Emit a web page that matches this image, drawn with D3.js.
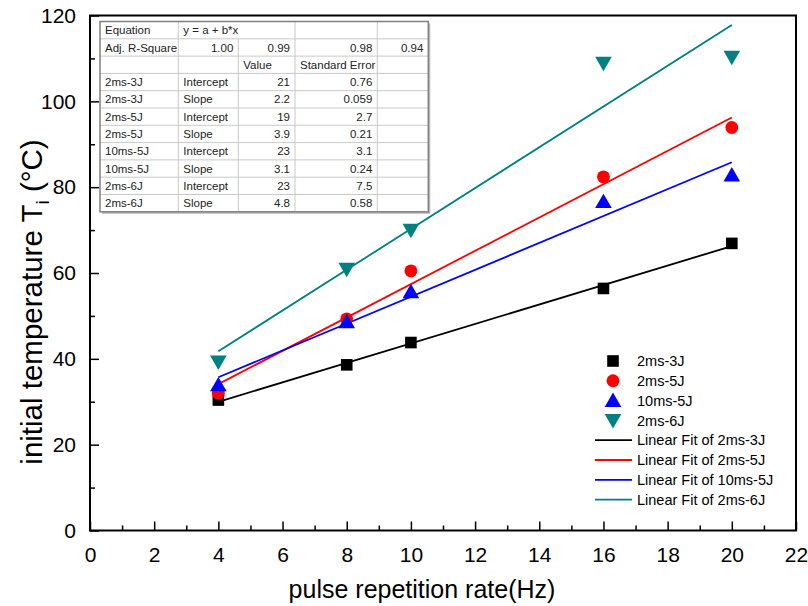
<!DOCTYPE html>
<html><head><meta charset="utf-8">
<script src="https://cdn.jsdelivr.net/npm/d3@7"></script>
<style>html,body{margin:0;padding:0;background:#fff;} svg{display:block;font-family:"Liberation Sans",Arial,sans-serif;}</style>
</head><body>
<script>
// ---- data ----
const xValues = [4, 8, 10, 16, 20];
const seriesNames = ["2ms-3J", "2ms-5J", "10ms-5J", "2ms-6J"];
const t2ms3J  = [30.4, 38.6, 43.8, 56.4, 66.9];
const t2ms5J  = [32.0, 49.3, 60.5, 82.4, 93.9];
const t10ms5J = [33.9, 48.6, 55.6, 76.6, 82.8];
const t2ms6J  = [39.3, 60.9, 70.0, 108.9, 110.3];
const seriesColors = ["#000000", "#ff0000", "#0000ff", "#008080"];
const seriesSymbols = ["square", "circle", "triangleUp", "triangleDown"];
const xTickValues = [0, 2, 4, 6, 8, 10, 12, 14, 16, 18, 20, 22];
const yTickValues = [0, 20, 40, 60, 80, 100, 120];
const fitLabels = ["Linear Fit of 2ms-3J", "Linear Fit of 2ms-5J", "Linear Fit of 10ms-5J", "Linear Fit of 2ms-6J"];
// fit table
const tableEquation = "y = a + b*x";
const adjRSquare = ["1.00", "0.99", "0.98", "0.94"];
const tableRowNames = ["2ms-3J", "2ms-3J", "2ms-5J", "2ms-5J", "10ms-5J", "10ms-5J", "2ms-6J", "2ms-6J"];
const tableParams = ["Intercept", "Slope", "Intercept", "Slope", "Intercept", "Slope", "Intercept", "Slope"];
const tableValues = ["21", "2.2", "19", "3.9", "23", "3.1", "23", "4.8"];
const tableErrors = ["0.76", "0.059", "2.7", "0.21", "3.1", "0.24", "7.5", "0.58"];

const seriesData = [t2ms3J, t2ms5J, t10ms5J, t2ms6J];

// ---- layout ----
const W = 808, H = 606;
const L = 90, R = 796, T = 15.5, B = 530.5;
const svg = d3.select("body").append("svg").attr("width", W).attr("height", H);
svg.append("rect").attr("width", W).attr("height", H).attr("fill", "#fff");

const x = d3.scaleLinear().domain([0, 22]).range([L, R]);
const y = d3.scaleLinear().domain([0, 120]).range([B, T]);

// ticks
const gx = svg.append("g").attr("transform", `translate(0,${B})`);
gx.call(d3.axisBottom(x).tickValues(d3.range(1, 22, 2)).tickSize(-5).tickFormat(""));
const gx2 = svg.append("g").attr("transform", `translate(0,${B})`);
gx2.call(d3.axisBottom(x).tickValues(xTickValues).tickSize(-9).tickPadding(17).tickFormat(d3.format("d")));
const gy = svg.append("g").attr("transform", `translate(${L},0)`);
gy.call(d3.axisLeft(y).tickValues(d3.range(10, 120, 20)).tickSize(-5).tickFormat(""));
const gy2 = svg.append("g").attr("transform", `translate(${L},0)`);
gy2.call(d3.axisLeft(y).tickValues(yTickValues).tickSize(-9).tickPadding(14).tickFormat(d3.format("d")));
[gx, gx2, gy, gy2].forEach(g => {
  g.select(".domain").remove();
  g.selectAll(".tick line").attr("stroke", "#000").attr("stroke-width", 1.5);
  g.selectAll(".tick text").attr("font-size", 21).attr("fill", "#000")
    .attr("font-family", '"Liberation Sans",Arial,sans-serif');
});
gx2.selectAll(".tick text").attr("dy", "0.71em");

// frame
svg.append("rect").attr("x", L).attr("y", T).attr("width", R - L).attr("height", B - T)
  .attr("fill", "none").attr("stroke", "#000").attr("stroke-width", 2);

// axis titles
svg.append("text").attr("x", 422).attr("y", 598).attr("text-anchor", "middle")
  .attr("font-size", 25).text("pulse repetition rate(Hz)");
const yt = svg.append("text").attr("transform", `translate(42,302) rotate(-90)`)
  .attr("text-anchor", "middle").attr("font-size", 29.5);
yt.append("tspan").text("initial temperature T");
yt.append("tspan").attr("font-size", 19).attr("dy", 7).text("i");
yt.append("tspan").attr("dy", -7).text(" (\u00B0C)");

// linear fits (least squares from the data)
function fit(xs, ys) {
  const mx = d3.mean(xs), my = d3.mean(ys);
  let sxy = 0, sxx = 0;
  xs.forEach((v, i) => { sxy += (v - mx) * (ys[i] - my); sxx += (v - mx) * (v - mx); });
  const b = sxy / sxx; return { a: my - b * mx, b };
}
const line = d3.line().x(d => x(d[0])).y(d => y(d[1]));
const xExt = d3.extent(xValues);
seriesData.forEach((ys, i) => {
  const f = fit(xValues, ys);
  svg.append("path").datum(xExt.map(v => [v, f.a + f.b * v])).attr("d", line)
    .attr("fill", "none").attr("stroke", seriesColors[i]).attr("stroke-width", 1.8);
});

// markers
const symType = { square: d3.symbolSquare, circle: d3.symbolCircle, triangleUp: d3.symbolTriangle, triangleDown: d3.symbolTriangle };
const symSize = { square: 135, circle: 130, triangleUp: 120, triangleDown: 120 };
function marker(g, kind, cx, cy, color) {
  const rot = kind === "triangleDown" ? 180 : 0;
  const dy = kind === "triangleUp" ? 1.5 : (kind === "triangleDown" ? -1.5 : 0);
  g.append("path").attr("d", d3.symbol().type(symType[kind]).size(symSize[kind])())
    .attr("transform", `translate(${cx},${cy + dy}) rotate(${rot})`).attr("fill", color);
}
seriesData.forEach((ys, i) => {
  const g = svg.append("g");
  ys.forEach((v, j) => marker(g, seriesSymbols[i], x(xValues[j]), y(v), seriesColors[i]));
});

// legend
const lg = svg.append("g");
const ly0 = 361, ldy = 19.8;
seriesNames.forEach((n, i) => {
  marker(lg, seriesSymbols[i], 613, ly0 + i * ldy, seriesColors[i]);
  lg.append("text").attr("x", 637).attr("y", ly0 + i * ldy).attr("dy", "0.36em")
    .attr("font-size", 14.5).text(n);
});
fitLabels.forEach((n, i) => {
  const yy = ly0 + (i + 4) * ldy;
  lg.append("line").attr("x1", 595).attr("x2", 632).attr("y1", yy).attr("y2", yy)
    .attr("stroke", seriesColors[i]).attr("stroke-width", 1.8);
  lg.append("text").attr("x", 637).attr("y", yy).attr("dy", "0.36em")
    .attr("font-size", 14.5).text(n);
});

// fit table
const cols = [100, 178.3, 238.3, 295, 377.3, 428.3];
const tTop = 21.5, rh = 17.3, nRows = 11;
const tb = svg.append("g").attr("font-size", 11.5).attr("fill", "#222");
tb.append("rect").attr("x", cols[0] + 2).attr("y", tTop + 2).attr("width", cols[5] - cols[0]).attr("height", rh * nRows)
  .attr("fill", "#bbb");
tb.append("rect").attr("x", cols[0]).attr("y", tTop).attr("width", cols[5] - cols[0]).attr("height", rh * nRows)
  .attr("fill", "#fff");
for (let r = 1; r < nRows; r++) {
  tb.append("line").attr("x1", cols[0]).attr("x2", cols[5]).attr("y1", tTop + r * rh).attr("y2", tTop + r * rh)
    .attr("stroke", "#c8c8c8").attr("stroke-width", 1);
}
[1, 2, 3, 4].forEach(c => {
  const y1 = c === 2 ? tTop + rh : tTop;
  tb.append("line").attr("x1", cols[c]).attr("x2", cols[c]).attr("y1", y1).attr("y2", tTop + rh * nRows)
    .attr("stroke", "#c8c8c8").attr("stroke-width", 1);
});
tb.append("rect").attr("x", cols[0]).attr("y", tTop).attr("width", cols[5] - cols[0]).attr("height", rh * nRows)
  .attr("fill", "none").attr("stroke", "#808080").attr("stroke-width", 1.5);
function cell(r, c, txt, align) {
  const yy = tTop + r * rh + rh / 2;
  const xx = align === "end" ? cols[c + 1] - 5 : cols[c] + 5;
  tb.append("text").attr("x", xx).attr("y", yy).attr("dy", "0.36em").attr("text-anchor", align).text(txt);
}
cell(0, 0, "Equation", "start");
cell(0, 1, tableEquation, "start");
cell(1, 0, "Adj. R-Square", "start");
adjRSquare.forEach((v, i) => cell(1, i + 1, v, "end"));
cell(2, 2, "Value", "start");
cell(2, 3, "Standard Error", "start");
tableRowNames.forEach((n, i) => {
  cell(i + 3, 0, n, "start");
  cell(i + 3, 1, tableParams[i], "start");
  cell(i + 3, 2, tableValues[i], "end");
  cell(i + 3, 3, tableErrors[i], "end");
});
</script>
</body></html>
